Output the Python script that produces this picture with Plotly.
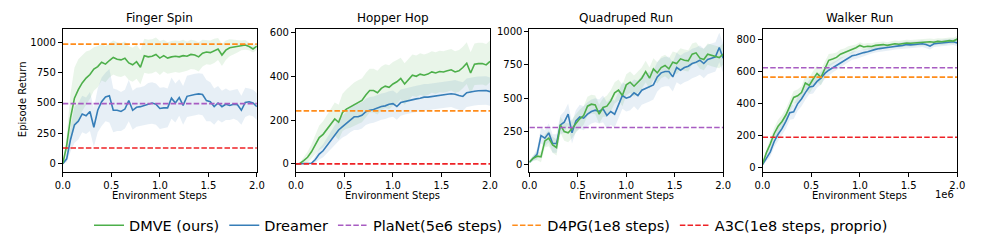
import plotly.graph_objects as go

# ---------------- data (x in units of 1e6 environment steps) ----------------
steps = [round(i * 0.04, 2) for i in range(51)]

titles = ["Finger Spin", "Hopper Hop", "Quadruped Run", "Walker Run"]

fs_dmve = [0, 150, 380, 540, 610, 665, 705, 735, 780, 800, 835, 820, 850, 875, 860, 855, 868, 830, 815, 840,
           795, 890, 880, 885, 900, 870, 890, 870, 880, 885, 880, 890, 885, 900, 895, 880, 910, 920, 915, 930,
           945, 895, 935, 955, 960, 965, 975, 978, 965, 945, 968]
fs_dmve_sd = [0, 80, 200, 250, 250, 230, 220, 200, 180, 170, 150, 150, 140, 140, 140, 140, 140, 140, 140, 140,
              140, 140, 140, 140, 140, 140, 130, 130, 130, 130, 130, 130, 120, 120, 120, 120, 110, 100, 100, 100,
              90, 90, 80, 70, 60, 50, 40, 40, 30, 30, 30]
fs_dreamer = [0, 40, 200, 320, 350, 410, 395, 430, 300, 440, 510, 550, 560, 440, 440, 430, 450, 520, 440, 465,
              470, 480, 495, 500, 490, 455, 460, 460, 540, 500, 545, 480, 555, 565, 570, 575, 570, 520, 510, 470,
              500, 470, 490, 480, 490, 485, 440, 505, 510, 500, 470]
fs_dreamer_sd = [0, 30, 100, 150, 150, 150, 150, 160, 160, 180, 200, 200, 220, 180, 170, 160, 160, 170, 160, 160,
                 160, 160, 170, 170, 170, 170, 170, 160, 170, 160, 150, 160, 170, 170, 170, 170, 170, 170, 160, 150,
                 140, 130, 130, 120, 120, 130, 120, 120, 110, 110, 110]

hh_dmve = [0, 2, 15, 30, 55, 90, 120, 135, 160, 185, 205, 190, 235, 250, 260, 272, 282, 290, 315, 335,
           335, 325, 345, 355, 350, 365, 375, 390, 365, 385, 405, 400, 410, 405, 410, 420, 415, 422, 420, 425,
           430, 420, 425, 440, 460, 415, 455, 458, 458, 452, 468]
hh_dmve_sd = [0, 3, 15, 25, 35, 45, 55, 60, 65, 70, 75, 80, 85, 90, 95, 100, 100, 100, 100, 100,
              100, 100, 100, 100, 100, 100, 100, 95, 95, 95, 95, 95, 95, 95, 95, 95, 95, 95, 95, 95,
              95, 95, 95, 95, 95, 95, 95, 95, 95, 95, 95]
hh_dreamer = [0, 0, 0, 0, 3, 20, 45, 60, 85, 110, 130, 155, 170, 185, 200, 215, 215, 222, 238, 245,
              248, 255, 262, 265, 272, 275, 262, 280, 285, 290, 292, 297, 300, 305, 305, 308, 312, 315, 315, 318,
              320, 318, 312, 308, 325, 330, 332, 334, 336, 335, 330]
hh_dreamer_sd = [0, 0, 0, 0, 3, 15, 25, 30, 35, 40, 45, 50, 50, 55, 55, 60, 60, 60, 60, 60,
                 60, 60, 60, 60, 60, 60, 60, 60, 60, 60, 60, 60, 60, 60, 60, 60, 60, 60, 60, 60,
                 60, 65, 65, 65, 65, 65, 65, 65, 65, 65, 65]

qr_dmve = [20, 50, 65, 60, 180, 200, 150, 130, 300, 250, 240, 270, 310, 345, 370, 440, 455, 450, 380, 430,
           440, 480, 540, 560, 520, 600, 620, 590, 620, 650, 700, 650, 720, 690, 730, 745, 720, 770, 760, 795,
           785, 780, 830, 840, 800, 790, 830, 820, 810, 805, 830]
qr_dmve_sd = [10, 20, 30, 40, 50, 60, 60, 60, 60, 70, 70, 70, 70, 70, 70, 70, 70, 70, 70, 70,
              80, 80, 80, 80, 80, 80, 80, 80, 80, 80, 80, 80, 80, 80, 80, 80, 80, 80, 80, 80,
              80, 80, 80, 80, 80, 80, 80, 80, 80, 80, 80]
qr_dreamer = [20, 50, 80, 220, 200, 240, 160, 160, 300, 320, 380, 240, 330, 360, 350, 380, 400, 410, 400, 420,
              370, 400, 380, 450, 520, 500, 510, 540, 520, 560, 575, 585, 600, 660, 690, 700, 700, 660, 730, 710,
              730, 740, 760, 770, 785, 760, 790, 800, 810, 880, 800]
qr_dreamer_sd = [10, 20, 40, 60, 60, 70, 70, 70, 70, 80, 80, 80, 80, 90, 90, 90, 90, 90, 90, 100,
                 100, 100, 100, 100, 100, 100, 100, 100, 110, 110, 110, 110, 110, 110, 110, 110, 110, 110, 110, 110,
                 110, 110, 110, 110, 110, 110, 110, 110, 110, 110, 110]

wr_dmve = [25, 95, 150, 215, 260, 290, 330, 390, 440, 450, 470, 530, 515, 555, 590, 565, 615, 672, 680, 690,
           710, 720, 735, 740, 750, 765, 755, 760, 758, 765, 768, 770, 765, 772, 775, 772, 776, 780, 778, 780,
           782, 785, 783, 788, 785, 790, 788, 792, 795, 792, 805]
wr_dmve_sd = [5, 20, 30, 35, 40, 40, 40, 40, 40, 40, 40, 45, 50, 50, 50, 50, 45, 40, 35, 30,
              30, 25, 25, 25, 20, 20, 20, 20, 20, 20, 20, 20, 20, 20, 20, 20, 20, 20, 20, 20,
              20, 20, 20, 20, 20, 20, 20, 20, 20, 20, 20]
wr_dreamer = [20, 60, 100, 165, 210, 245, 290, 345, 350, 400, 430, 470, 505, 510, 540, 560, 590, 610, 625, 640,
              660, 670, 685, 700, 705, 715, 720, 725, 735, 740, 745, 750, 752, 755, 760, 762, 765, 770, 768, 770,
              772, 775, 770, 760, 775, 778, 780, 782, 785, 788, 780]
wr_dreamer_sd = [5, 20, 30, 35, 40, 40, 45, 45, 45, 45, 45, 45, 45, 45, 40, 40, 35, 35, 30, 30,
                 30, 25, 25, 25, 25, 25, 20, 20, 20, 20, 20, 20, 20, 20, 20, 20, 20, 20, 20, 20,
                 20, 20, 20, 20, 20, 20, 20, 20, 20, 20, 20]

# baselines per task: PlaNet, D4PG, A3C (None = not shown)
planet = [495, None, 280, 625]
d4pg = [985, 242, None, 567]
a3c = [129, 0, None, 191]

y_ranges = [[-70, 1113], [-38, 618], [-55, 1022], [-27, 870]]
y_ticks = [[0, 250, 500, 750, 1000], [0, 200, 400, 600], [0, 250, 500, 750, 1000], [0, 200, 400, 600, 800]]
x_ticks = [0, 0.5, 1.0, 1.5, 2.0]

dmve_all = [fs_dmve, hh_dmve, qr_dmve, wr_dmve]
dmve_sd_all = [fs_dmve_sd, hh_dmve_sd, qr_dmve_sd, wr_dmve_sd]
dreamer_all = [fs_dreamer, hh_dreamer, qr_dreamer, wr_dreamer]
dreamer_sd_all = [fs_dreamer_sd, hh_dreamer_sd, qr_dreamer_sd, wr_dreamer_sd]

# ---------------- styles ----------------
W, H = 983, 246
GREEN = "#4daf4a"
BLUE = "#377eb8"
PURPLE = "#a85cc2"
ORANGE = "#ff8c1a"
RED = "#ee2226"
FONT = "DejaVu Sans"
DASH = "5.5px,2.2px"

x_px = [(55.7, 253), (292.7, 490), (530, 727), (767, 965)]
y_top, y_bot = 26, 172
ydom = [(H - y_bot) / H, (H - y_top) / H]


def rgba(hex_color, a):
    h = hex_color.lstrip("#")
    return "rgba(%d,%d,%d,%.2f)" % (int(h[0:2], 16), int(h[2:4], 16), int(h[4:6], 16), a)


fig = go.Figure()
layout = {}
annotations = []

for i in range(4):
    xa = "x" if i == 0 else "x%d" % (i + 1)
    ya = "y" if i == 0 else "y%d" % (i + 1)
    for mean, sd, col in [(dmve_all[i], dmve_sd_all[i], GREEN),
                          (dreamer_all[i], dreamer_sd_all[i], BLUE)]:
        upper = [m + s for m, s in zip(mean, sd)]
        lower = [m - s for m, s in zip(mean, sd)]
        fig.add_trace(go.Scatter(x=steps + steps[::-1], y=upper + lower[::-1], fill="toself",
                                 fillcolor=rgba(col, 0.12), line=dict(width=0), mode="lines",
                                 hoverinfo="skip", showlegend=False, xaxis=xa, yaxis=ya))
    fig.add_trace(go.Scatter(x=steps, y=dreamer_all[i], mode="lines", name="Dreamer",
                             line=dict(color=BLUE, width=1.6),
                             showlegend=False, xaxis=xa, yaxis=ya))
    fig.add_trace(go.Scatter(x=steps, y=dmve_all[i], mode="lines", name="DMVE (ours)",
                             line=dict(color=GREEN, width=1.6),
                             showlegend=False, xaxis=xa, yaxis=ya))
    for name, vals, col in [("PlaNet(5e6 steps)", planet, PURPLE),
                            ("D4PG(1e8 steps)", d4pg, ORANGE),
                            ("A3C(1e8 steps, proprio)", a3c, RED)]:
        if vals[i] is None:
            continue
        fig.add_trace(go.Scatter(x=[0, 2.0], y=[vals[i], vals[i]], mode="lines", name=name,
                                 line=dict(color=col, width=1.6, dash=DASH),
                                 showlegend=False, xaxis=xa, yaxis=ya))

    x0, x1 = x_px[i]
    axis_common = dict(showline=True, linecolor="black", linewidth=1, mirror=True, ticks="outside",
                       ticklen=4, tickcolor="black", showgrid=False, zeroline=False,
                       tickfont=dict(family=FONT, size=10, color="black"))
    layout["xaxis" if i == 0 else "xaxis%d" % (i + 1)] = dict(
        domain=[x0 / W, x1 / W], anchor=ya, range=[0, 2.0], tickvals=x_ticks,
        ticktext=["%.1f" % v for v in x_ticks], **axis_common)
    layout["yaxis" if i == 0 else "yaxis%d" % (i + 1)] = dict(
        domain=ydom, anchor=xa, range=y_ranges[i], tickvals=y_ticks[i],
        ticktext=[str(v) for v in y_ticks[i]], **axis_common)
    cx = (x0 + x1) / 2 / W
    annotations.append(dict(text=titles[i], x=cx, y=(H - 15) / H, xref="paper", yref="paper",
                            showarrow=False, xanchor="center", yanchor="middle",
                            font=dict(family=FONT, size=12, color="black")))
    annotations.append(dict(text="Environment Steps", x=cx, y=(H - 196) / H, xref="paper", yref="paper",
                            showarrow=False, xanchor="center", yanchor="middle",
                            font=dict(family=FONT, size=10, color="black")))

annotations.append(dict(text="Episode Return", x=15 / W, y=(H - 98) / H, xref="paper", yref="paper",
                        showarrow=False, textangle=-90, xanchor="center", yanchor="middle",
                        font=dict(family=FONT, size=10, color="black")))
annotations.append(dict(text="1e6", x=964 / W, y=(H - 195) / H, xref="paper", yref="paper",
                        showarrow=False, xanchor="right", yanchor="middle",
                        font=dict(family=FONT, size=10, color="black")))

# legend-only traces
for name, col, dash in [("DMVE (ours)", GREEN, "solid"), ("Dreamer", BLUE, "solid"),
                        ("PlaNet(5e6 steps)", PURPLE, DASH), ("D4PG(1e8 steps)", ORANGE, DASH),
                        ("A3C(1e8 steps, proprio)", RED, DASH)]:
    fig.add_trace(go.Scatter(x=[None], y=[None], mode="lines", name=name,
                             line=dict(color=col, width=1.6, dash=dash), showlegend=True))

fig.update_layout(
    width=W, height=H, margin=dict(l=0, r=0, t=0, b=0),
    paper_bgcolor="white", plot_bgcolor="white",
    font=dict(family=FONT, size=10, color="black"),
    annotations=annotations,
    legend=dict(orientation="h", x=491 / W, xanchor="center", y=(H - 226) / H, yanchor="middle",
                font=dict(family=FONT, size=14.5, color="black"), bgcolor="rgba(0,0,0,0)",
                traceorder="normal", itemwidth=30),
    showlegend=True,
    **layout,
)

fig.write_html("out.html", config={"displayModeBar": False},
               post_script="document.body.style.margin='0';document.body.style.padding='0';")
